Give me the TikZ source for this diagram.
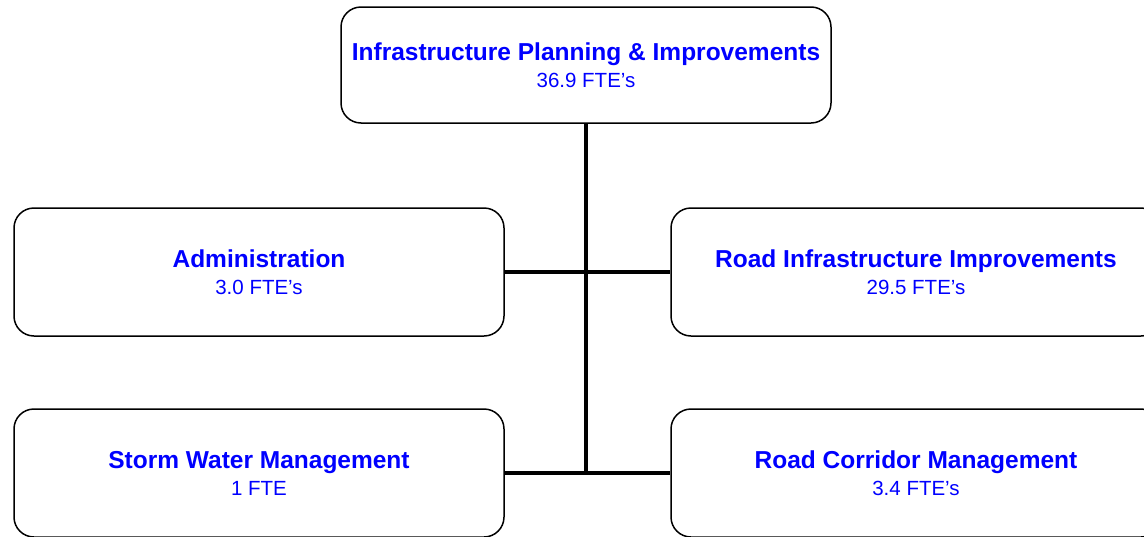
\documentclass[tikz,border=0pt]{standalone}
\usepackage{fontspec}
\setmainfont{Liberation Sans}
\usepackage{tikz}
\usetikzlibrary{positioning}

\begin{document}
\begin{tikzpicture}[x=1pt,y=-1pt,
  boite/.style={draw,line width=1.5pt,rounded corners=20pt,fill=white,
    minimum width=490pt,minimum height=128pt,inner sep=0pt,align=center,
    text=blue,font=\fontsize{24.5}{27}\selectfont},
  lien/.style={line width=4pt}]
\clip (0,0) rectangle (1144,536);
\color{black}

\draw[lien] (586,65) -- (586,473) coordinate (bas);%le tronc

%les boites
\node[boite,minimum height=116pt] (ipi) at (586,65) {\bfseries Infrastructure Planning \& Improvements\\{\fontsize{20.5}{27}\selectfont 36.9 FTE’s}};
\node[boite] (admin) at (259,272) {\bfseries Administration\\{\fontsize{20.5}{27}\selectfont 3.0 FTE’s}};
\node[boite] (rii) at (916,272) {\bfseries Road Infrastructure Improvements\\{\fontsize{20.5}{27}\selectfont 29.5 FTE’s}};
\node[boite] (swm) at (259,473) {\bfseries Storm Water Management\\{\fontsize{20.5}{27}\selectfont 1 FTE}};
\node[boite] (rcm) at (916,473) {\bfseries Road Corridor Management\\{\fontsize{20.5}{27}\selectfont 3.4 FTE’s}};

%les liens
\draw[lien] (ipi.south) -- (bas);
\draw[lien] (admin.east) -- (rii.west);
\draw[lien] (swm.east) -- (rcm.west);
\end{tikzpicture}
\end{document}
